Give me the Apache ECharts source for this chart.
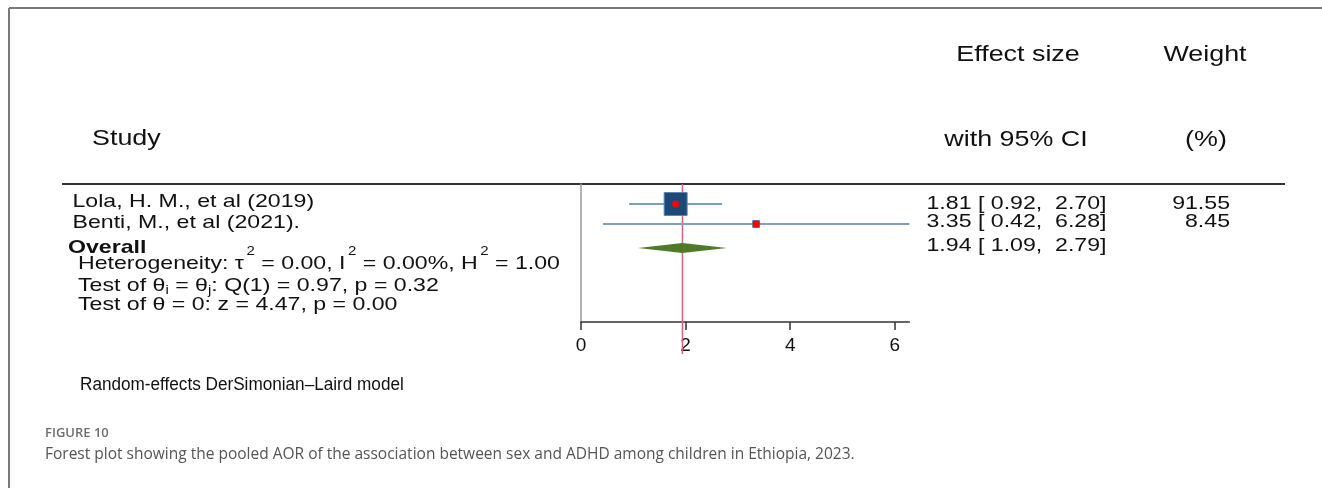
<!DOCTYPE html>
<html>
<head>
<meta charset="utf-8">
<script src="https://cdn.jsdelivr.net/npm/echarts@6/dist/echarts.min.js"></script>
<style>
html, body { margin: 0; padding: 0; background: #fff; }
#main { width: 1322px; height: 488px; }
</style>
</head>
<body>
<div id="main"></div>
<script>
// data
var studies = ["Lola, H. M., et al (2019)", "Benti, M., et al (2021)."];
var es = [1.81, 3.35];
var lo = [0.92, 0.42];
var hi = [2.70, 6.28];
var weights = [91.55, 8.45];
var overallEs = 1.94;
var overallLo = 1.09;
var overallHi = 2.79;
var rowY = [1, 2, 3.2];          // row positions on the y scale (study 1, study 2, overall)
var xTicks = [0, 2, 4, 6];
var headers = ["Effect size", "with 95% CI", "Weight", "(%)", "Study"];
var statLines = [
    [["Heterogeneity: \u03c4", "n"], ["2", "sup"], [" = 0.00, I", "n"], ["2", "sup"], [" = 0.00%, H", "n"], ["2", "sup"], [" = 1.00", "n"]],
    [["Test of \u03b8", "n"], ["i", "sub"], [" = \u03b8", "n"], ["j", "sub"], [": Q(1) = 0.97, p = 0.32", "n"]],
    [["Test of \u03b8 = 0: z = 4.47, p = 0.00", "n"]]
];
var modelNote = "Random-effects DerSimonian\u2013Laird model";
var figLabel = "FIGURE 10";
var caption = "Forest plot showing the pooled AOR of the association between sex and ADHD among children in Ethiopia, 2023.";

var FONT = '"Liberation Sans", Arial, sans-serif';
var ROW_FS = 18.5;
var HEAD_FS = 21.5;
var STRETCH = 1.25;

var ctx = document.createElement('canvas').getContext('2d');
function textWidth(str, size, weight) {
    ctx.font = (weight || 'normal') + ' ' + size + 'px "Liberation Sans"';
    return ctx.measureText(str).width;
}

function fmt(v) { return v.toFixed(2); }

function txt(str, x, y, opt) {
    opt = opt || {};
    return {
        type: 'text',
        x: x, y: y,
        scaleX: opt.scaleX || 1,
        silent: true,
        style: {
            text: str,
            fill: opt.color || '#111',
            font: (opt.weight || 'normal') + ' ' + (opt.size || ROW_FS) + 'px ' + (opt.family || FONT),
            textAlign: opt.align || 'left',
            textVerticalAlign: 'middle'
        }
    };
}

// one line made of pieces with super/subscripts, stretched as a group
function segLine(segs, x, y, size) {
    var children = [];
    var cx = 0;
    segs.forEach(function (s) {
        var str = s[0], kind = s[1];
        var fs = size, dy = 0;
        if (kind === 'sup') { fs = 12; dy = -12; cx += 2; }
        if (kind === 'sub') { fs = 12; dy = 5; }
        children.push({
            type: 'text', x: cx, y: dy, silent: true,
            style: { text: str, fill: '#111', font: fs + 'px ' + FONT, textAlign: 'left', textVerticalAlign: 'middle' }
        });
        cx += textWidth(str, fs);
    });
    return { type: 'group', x: x, y: y, scaleX: STRETCH, children: children };
}

var myChart = echarts.init(document.getElementById('main'));

var studyData = [];
for (var i = 0; i < studies.length; i++) {
    studyData.push([es[i], lo[i], hi[i], rowY[i], weights[i]]);
}

var graphics = [];
// frame
graphics.push({ type: 'line', silent: true, shape: { x1: 9, y1: 8, x2: 1322, y2: 8 }, style: { stroke: '#7a7a7a', lineWidth: 2 } });
graphics.push({ type: 'line', silent: true, shape: { x1: 9, y1: 8, x2: 9, y2: 488 }, style: { stroke: '#7a7a7a', lineWidth: 2 } });
// header rule
graphics.push({ type: 'line', silent: true, shape: { x1: 62, y1: 184, x2: 1285, y2: 184 }, style: { stroke: '#333', lineWidth: 2 } });

// headers
graphics.push(txt(headers[0], 1018, 55, { size: HEAD_FS, align: 'center', scaleX: STRETCH }));
graphics.push(txt(headers[1], 1016, 140, { size: HEAD_FS, align: 'center', scaleX: STRETCH }));
graphics.push(txt(headers[2], 1205, 55, { size: HEAD_FS, align: 'center', scaleX: STRETCH }));
graphics.push(txt(headers[3], 1206, 140, { size: HEAD_FS, align: 'center', scaleX: STRETCH }));
graphics.push(txt(headers[4], 92, 139, { size: HEAD_FS, scaleX: STRETCH }));

// study labels and numbers
var leftY = [202, 222.5, 248, 263.5, 286, 305];
var rightY = [204, 222, 246];
for (var k = 0; k < studies.length; k++) {
    graphics.push(txt(studies[k], 72.5, leftY[k], { scaleX: STRETCH }));
    graphics.push(txt(fmt(es[k]) + ' [ ' + fmt(lo[k]) + ',  ' + fmt(hi[k]) + ']', 926.5, rightY[k], { scaleX: STRETCH }));
    graphics.push(txt(fmt(weights[k]), 1230, rightY[k], { align: 'right', scaleX: STRETCH }));
}
graphics.push(txt('Overall', 68, leftY[2], { weight: 'bold', scaleX: STRETCH }));
graphics.push(txt(fmt(overallEs) + ' [ ' + fmt(overallLo) + ',  ' + fmt(overallHi) + ']', 926.5, rightY[2], { scaleX: STRETCH }));
for (var m = 0; m < statLines.length; m++) {
    graphics.push(segLine(statLines[m], 78, leftY[3 + m], ROW_FS));
}

// notes below
graphics.push(txt(modelNote, 80, 385, { size: 17.5, scaleX: 0.98 }));
graphics.push(txt(figLabel, 45, 433, { size: 13, weight: '600', color: '#6e6e6e', family: '"Open Sans", sans-serif' }));
graphics.push(txt(caption, 45, 455, { size: 15.5, color: '#555', family: '"Open Sans", sans-serif' }));

var option = {
    animation: false,
    backgroundColor: '#fff',
    grid: { left: 581, top: 184, width: 328.4, height: 138, containLabel: false },
    xAxis: {
        type: 'value',
        min: 0,
        max: 6.28,
        interval: 2,
        axisLine: { show: true, onZero: false, lineStyle: { color: '#333', width: 1.5 } },
        axisTick: { show: true, length: 8, customValues: xTicks, lineStyle: { color: '#333', width: 1.5 } },
        axisLabel: { customValues: xTicks, fontSize: 19, color: '#111', margin: 14, fontFamily: FONT },
        splitLine: { show: false }
    },
    yAxis: {
        type: 'value',
        inverse: true,
        min: 0,
        max: 6.9,
        axisLine: { show: true, onZero: false, lineStyle: { color: '#9a9a9a', width: 1.5 } },
        axisTick: { show: false },
        axisLabel: { show: false },
        splitLine: { show: false }
    },
    graphic: graphics,
    series: [
        {
            // pooled effect reference line
            type: 'custom',
            clip: false,
            silent: true,
            data: [[overallEs]],
            renderItem: function (params, api) {
                var x = api.coord([api.value(0), 0])[0];
                var cs = params.coordSys;
                return {
                    type: 'line',
                    shape: { x1: x, y1: cs.y, x2: x, y2: cs.y + cs.height + 32 },
                    style: { stroke: '#e0607a', lineWidth: 1.5 }
                };
            }
        },
        {
            type: 'custom',
            clip: false,
            silent: true,
            data: studyData,
            renderItem: function (params, api) {
                var y = api.value(3);
                var pLo = api.coord([api.value(1), y]);
                var pHi = api.coord([api.value(2), y]);
                var pEs = api.coord([api.value(0), y]);
                var side = 24 * Math.sqrt(api.value(4) / 100);
                return {
                    type: 'group',
                    children: [
                        { type: 'line', shape: { x1: pLo[0], y1: pLo[1], x2: pHi[0], y2: pHi[1] }, style: { stroke: '#7f9fc2', lineWidth: 2 } },
                        { type: 'rect', shape: { x: pEs[0] - side / 2, y: pEs[1] - side / 2, width: side, height: side }, style: { fill: '#1b4a78', stroke: '#5f84aa', lineWidth: 1 } },
                        { type: 'circle', shape: { cx: pEs[0], cy: pEs[1], r: 3.5 }, style: { fill: '#ff0000' } }
                    ]
                };
            }
        },
        {
            // overall diamond
            type: 'custom',
            clip: false,
            silent: true,
            data: [[overallEs, overallLo, overallHi, rowY[2]]],
            renderItem: function (params, api) {
                var y = api.value(3);
                var a = api.coord([api.value(1), y]);
                var c = api.coord([api.value(0), y]);
                var b = api.coord([api.value(2), y]);
                return {
                    type: 'polygon',
                    shape: { points: [[a[0], a[1]], [c[0], c[1] - 5], [b[0], b[1]], [c[0], c[1] + 5]] },
                    style: { fill: '#4f7a28' }
                };
            }
        }
    ]
};

myChart.setOption(option);
window.addEventListener("resize", function () {
    myChart.resize();
});
</script>
</body>
</html>
